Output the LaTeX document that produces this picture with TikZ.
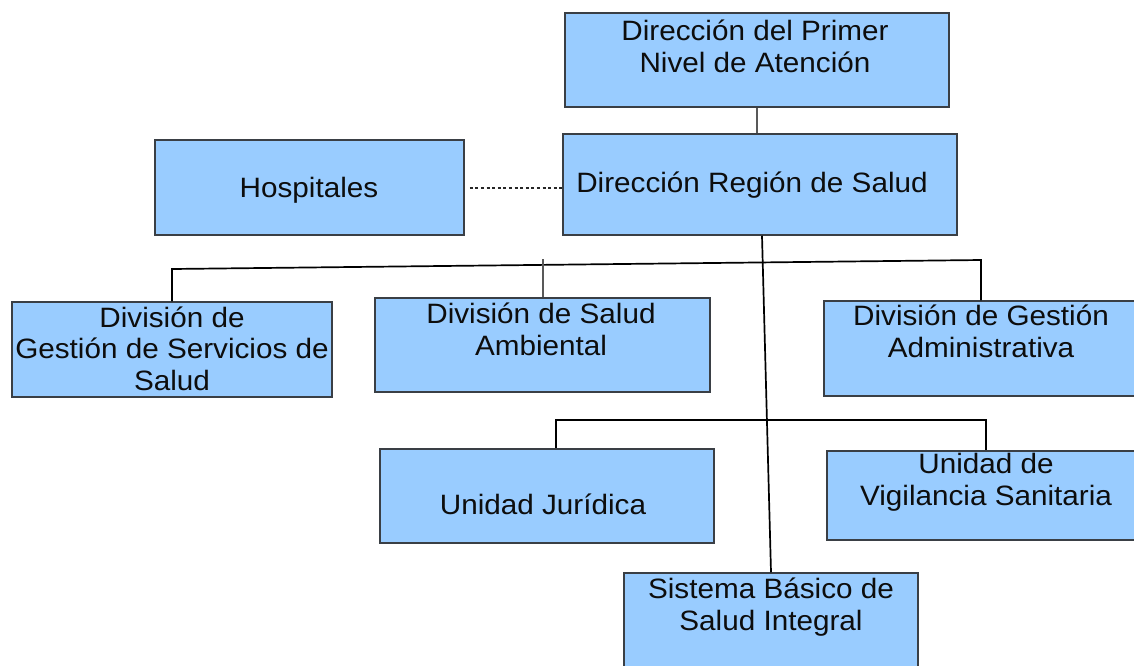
\documentclass[tikz,border=0pt]{standalone}
\usepackage{fontspec}
\setmainfont{Liberation Sans}[FakeStretch=1.06]
\definecolor{boxfill}{HTML}{99CCFF}
\definecolor{boxline}{HTML}{3A3F45}
\definecolor{txtcol}{HTML}{0D0D0D}
\begin{document}
\begin{tikzpicture}[x=1pt,y=-1pt,
  box/.style={draw=boxline, fill=boxfill, line width=1.5pt, inner sep=0pt, rectangle},
  txt/.style={font=\fontsize{28}{31.5}\selectfont, text=txtcol, align=center, inner sep=0pt},
  conn/.style={draw=black, line width=1.7pt},
  tick/.style={draw=black!65, line width=1.5pt}]
\useasboundingbox (0,0) rectangle (1134,665);
\fill[white] (0,0) rectangle (1134,665);

% boxes
\node[box, minimum width=384pt, minimum height=94pt] (b1) at (757,60) {};
\node[box, minimum width=394pt, minimum height=101pt] (b2) at (760,184.5) {};
\node[box, minimum width=309pt, minimum height=95pt] (hosp) at (309.5,187.5) {};
\node[box, minimum width=320pt, minimum height=95pt] (gss) at (172,349.5) {};
\node[box, minimum width=335pt, minimum height=94pt] (dsa) at (542.5,345) {};
\node[box, minimum width=314pt, minimum height=95pt] (dga) at (981,348.5) {};
\node[box, minimum width=334pt, minimum height=94pt] (uj) at (547,496) {};
\node[box, minimum width=318pt, minimum height=89pt] (uvs) at (986,495.5) {};
\node[box, minimum width=294pt, minimum height=117pt] (sb) at (771,631.5) {};

% texts (anchor = baseline of the last line)
\node[txt, anchor=base] (t1) at (755,72) {Dirección del Primer\\Nivel de Atención};
\node[txt, anchor=base] (t2) at (752,192) {Dirección Región de Salud};
\node[txt, anchor=base] (th) at (309,197) {Hospitales};
\node[txt, anchor=base] (tg) at (172,390) {División de\\Gestión de Servicios de\\Salud};
\node[txt, anchor=base] (ts) at (541,355) {División de Salud\\Ambiental};
\node[txt, anchor=base] (ta) at (981,357) {División de Gestión\\Administrativa};
\node[txt, anchor=base] (tj) at (543,514) {Unidad Jurídica};
\node[txt, anchor=base] (tv) at (986,505) {Unidad de\\Vigilancia Sanitaria};
\node[txt, anchor=base] (tb) at (771,630) {Sistema Básico de\\Salud Integral};

% connectors
\draw[tick] (b1.south) -- (b1.south |- b2.north);
\draw[draw=black!85, line width=2pt, dash pattern=on 3pt off 2.6pt] ([xshift=5pt]hosp.east) -- (hosp.east -| b2.west);
\draw[conn] ([xshift=2pt]b2.south) -- (sb.north);

\coordinate (busL) at (172,269);
\coordinate (busR) at (981,260);
\coordinate (tickTop) at (543,259);
\draw[conn] (gss.north) -- (busL) -- (busR) -- (dga.north);
\draw[tick] (tickTop) -- (tickTop |- dsa.north);

\coordinate (bus2L) at (556,420);
\draw[conn] (bus2L |- uj.north) -- (bus2L) -- (uvs.north |- bus2L) -- (uvs.north);
\end{tikzpicture}
\end{document}
